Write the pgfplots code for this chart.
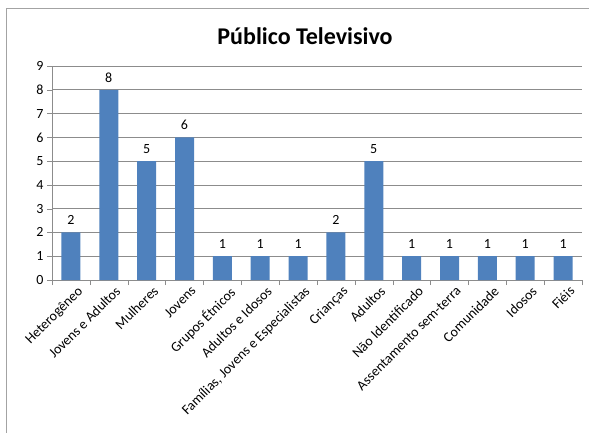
\documentclass[border=0pt]{standalone}
\usepackage{pgfplots}
\pgfplotsset{compat=1.18}
\usepackage{fontspec}
\setmainfont{Carlito}
\definecolor{barblue}{HTML}{4F81BD}
\definecolor{gridgray}{HTML}{8C8C8C}
\begin{document}
\begin{tikzpicture}
\useasboundingbox (0pt,0pt) rectangle (589pt,432pt);
\clip (0pt,0pt) rectangle (589pt,432pt);
\draw[color=gridgray!80, line width=1pt] (6pt,-10pt) -- (6pt,423pt) -- (600pt,423pt);
\node[font=\fontsize{24}{28}\selectfont\bfseries] at (305pt,396pt) {Público Televisivo};
\begin{axis}[
  at={(52pt,152pt)}, anchor=south west,
  scale only axis, width=530pt, height=214pt,
  ymin=0, ymax=9, ytick={0,...,9},
  xmin=-0.5, xmax=13.5,
  axis x line=bottom, axis y line=left,
  axis line style={-, gridgray},
  ymajorgrids, major grid style={gridgray, line width=0.6pt},
  xtick=data,
  xticklabels={Heterogêneo, Jovens e Adultos, Mulheres, Jovens, Grupos Étnicos, Adultos e Idosos, {Famílias, Jovens e Especialistas}, Crianças, Adultos, Não Identificado, Assentamento sem-terra, Comunidade, Idosos, Fiéis},
  major x tick style={draw=none},
  minor xtick={-0.5,0.5,...,13.5},
  minor tick length=5pt,
  minor x tick style={gridgray},
  major tick length=5pt,
  ytick style={gridgray},
  tick align=outside,
  x tick label style={rotate=45, anchor=north east, font=\fontsize{14}{16}\selectfont, inner sep=1pt, yshift=-3pt, xshift=5pt},
  y tick label style={font=\fontsize{14}{16}\selectfont},
  /pgf/number format/assume math mode=true,
  ybar, bar width=19pt,
  nodes near coords,
  every node near coord/.append style={font=\fontsize{14}{16}\selectfont, yshift=4pt},
]
\addplot[fill=barblue, draw=none] coordinates {
(0,2) (1,8) (2,5) (3,6) (4,1) (5,1) (6,1) (7,2) (8,5) (9,1) (10,1) (11,1) (12,1) (13,1)};
\end{axis}
\end{tikzpicture}
\end{document}
